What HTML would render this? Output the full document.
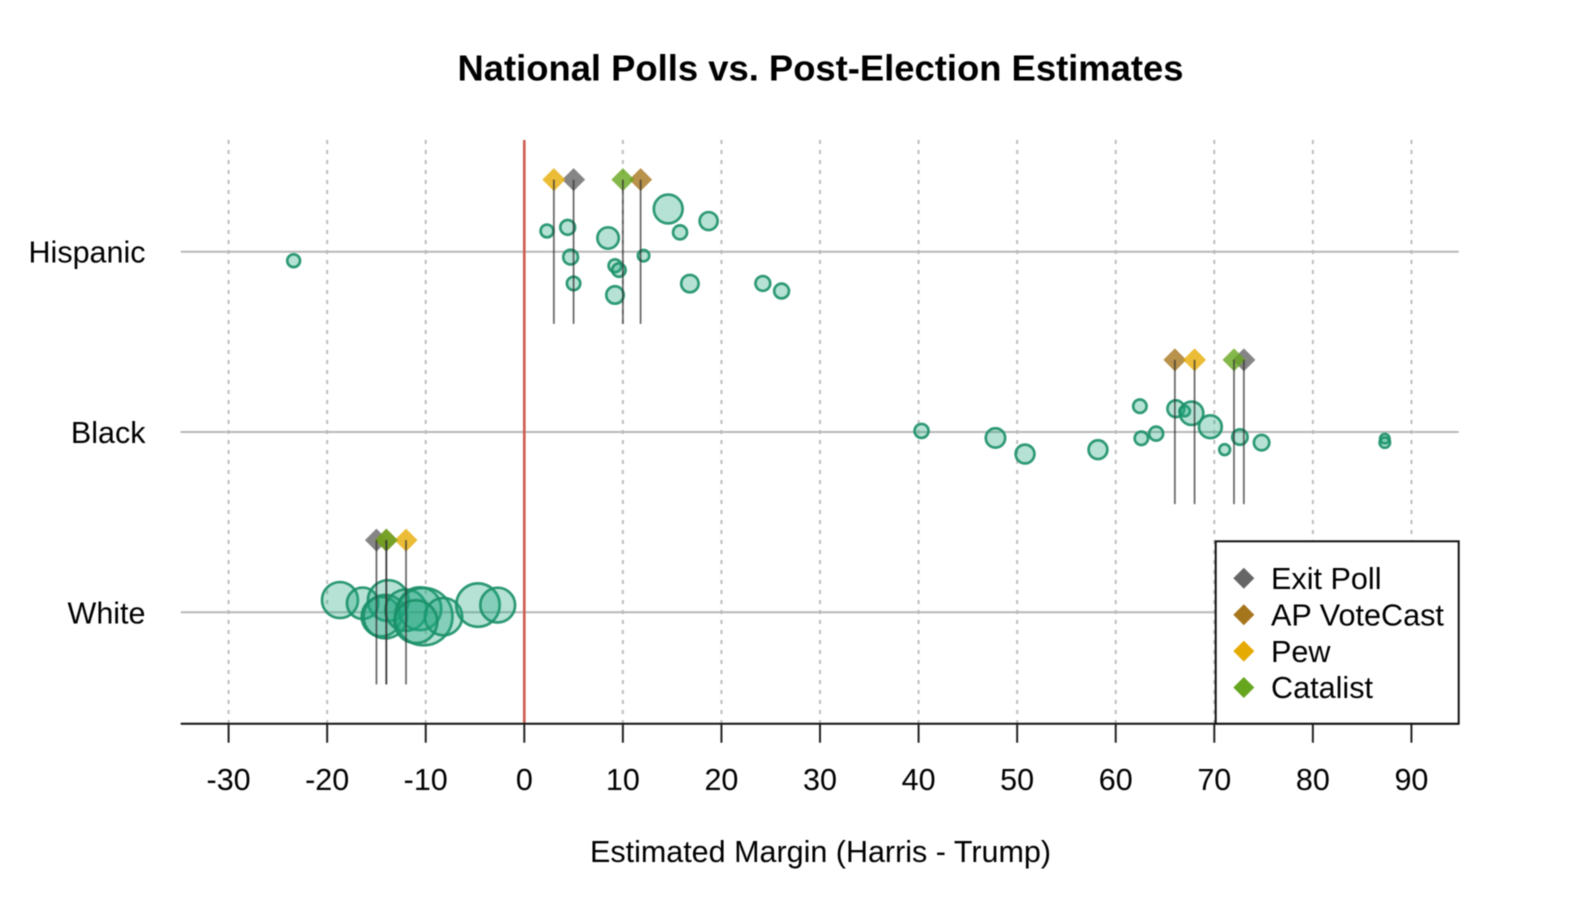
<!DOCTYPE html>
<html lang="en">
<head>
<meta charset="utf-8">
<title>National Polls vs. Post-Election Estimates</title>
<style>
html,body{margin:0;padding:0;background:#fff;}
body{width:1596px;height:898px;overflow:hidden;}
svg{display:block;font-family:"Liberation Sans",Arial,sans-serif;filter:blur(0.45px);}
</style>
</head>
<body>
<svg id="chart" width="1596" height="898" viewBox="0 0 1596 898" xmlns="http://www.w3.org/2000/svg">
  <rect x="0" y="0" width="1596" height="898" fill="#ffffff"/>
  <text x="820.5" y="80.5" text-anchor="middle" font-size="36.4" font-weight="700" fill="#000">National Polls vs. Post-Election Estimates</text>
  <text x="820.5" y="862" text-anchor="middle" font-size="30.5" fill="#000">Estimated Margin (Harris - Trump)</text>
  <g id="grid"></g>
  <g id="marks"></g>
  <g id="axis"></g>
  <g id="legend"></g>
</svg>
<script>
const categories = ['Hispanic', 'Black', 'White'];
const xTicks = [-30, -20, -10, 0, 10, 20, 30, 40, 50, 60, 70, 80, 90];

const hispanicMargins = [-23.4, 2.3, 4.4, 4.7, 5.0, 8.5, 9.2, 9.6, 9.2, 12.1, 14.6, 15.8, 18.7, 16.8, 24.2, 26.1];
const hispanicJitter = [0.05, -0.115, -0.135, 0.03, 0.176, -0.076, 0.078, 0.102, 0.24, 0.022, -0.237, -0.107, -0.17, 0.177, 0.176, 0.218];
const hispanicSizes = [280, 280, 370, 370, 306, 756, 280, 306, 506, 225, 1350, 333, 540, 506, 370, 370];

const blackMargins = [40.3, 47.8, 50.8, 58.2, 62.45, 62.6, 64.1, 66.1, 67.0, 67.7, 69.6, 71.05, 72.6, 74.8, 87.3, 87.3];
const blackJitter = [-0.006, 0.033, 0.122, 0.098, -0.143, 0.035, 0.009, -0.129, -0.116, -0.104, -0.029, 0.098, 0.028, 0.059, 0.037, 0.059];
const blackSizes = [333, 625, 588, 588, 306, 306, 333, 473, 189, 900, 856, 203, 400, 400, 156, 189];

const whiteMargins = [-18.7, -16.4, -13.8, -14.5, -14.1, -12.0, -10.6, -10.2, -8.2, -11.0, -4.7, -2.7];
const whiteJitter = [-0.068, -0.05, -0.065, 0.024, 0.024, -0.012, -0.02, 0.024, 0.024, 0.052, -0.04, -0.04];
const whiteSizes = [2093, 1600, 2678, 2500, 3025, 2756, 2943, 5256, 2256, 2943, 3025, 1958];

const pollNames = ['Exit Poll', 'AP VoteCast', 'Pew', 'Catalist'];
const exitPollValues = [5, 73, -15];
const apVoteCastValues = [11.8, 66, -14];
const pewValues = [3, 68, -12];
const catalistValues = [10, 72, -14];

const NS = 'http://www.w3.org/2000/svg';
const xScale = v => 524.3 + v * 9.857;
const yScale = r => 251.7 + r * 180.3;
const radius = n => 0.4 * Math.sqrt(n) - 0.3;
const axisY = 723.7, plotLeft = 180.7, plotRight = 1458.7, plotTop = 140;

function make(parent, tag, props, text) {
  const el = document.createElementNS(NS, tag);
  for (const k in props) el.setAttribute(k, props[k]);
  if (text !== undefined) el.textContent = text;
  parent.appendChild(el);
  return el;
}
function diamondPoints(cx, cy, h) {
  return [cx, cy - h, cx + h, cy, cx, cy + h, cx - h, cy].join(',');
}

const grid = document.getElementById('grid');
const marks = document.getElementById('marks');
const axis = document.getElementById('axis');
const legend = document.getElementById('legend');

xTicks.forEach(t => {
  const line = make(grid, 'line', {x1: xScale(t), x2: xScale(t), y1: plotTop, y2: axisY, stroke: '#bdbdbd', 'stroke-width': 2, 'stroke-dasharray': '4 6'});
  
  
});
categories.forEach((c, i) => {
  const line = make(grid, 'line', {x1: plotLeft, x2: plotRight, y1: yScale(i), y2: yScale(i), stroke: '#b8b8b8', 'stroke-width': 2});
  
  
  const label = make(axis, 'text', {x: 145.5, y: yScale(i) + 11, 'text-anchor': 'end', 'font-size': 30.5, fill: '#000'}, c);
  
  
});

const zeroLine = make(grid, 'line', {x1: xScale(0), x2: xScale(0), y1: plotTop, y2: axisY, stroke: '#cc5a4e', 'stroke-width': 2.6});



const pollRows = [[hispanicMargins, hispanicJitter, hispanicSizes], [blackMargins, blackJitter, blackSizes], [whiteMargins, whiteJitter, whiteSizes]];
pollRows.forEach((row, i) => {
  row[0].forEach((m, k) => {
    const dot = make(marks, 'circle', {cx: xScale(m), cy: yScale(i + row[1][k]), r: radius(row[2][k]), fill: '#22a87e', 'fill-opacity': 0.33, stroke: '#1b9068', 'stroke-opacity': 0.9, 'stroke-width': 2.7});
    
    
  });
});

const pollValues = [exitPollValues, apVoteCastValues, pewValues, catalistValues];
const pollColors = ['#666666', '#a6761d', '#e6ab02', '#66a61e'];
pollValues.forEach((vals, s) => {
  vals.forEach((v, i) => {
    const d = make(marks, 'polygon', {points: diamondPoints(xScale(v), yScale(i - 0.4), 11.5), fill: pollColors[s], 'fill-opacity': 0.8});
    
    
  });
});
pollValues.forEach(vals => {
  vals.forEach((v, i) => {
    const l = make(marks, 'line', {x1: xScale(v), x2: xScale(v), y1: yScale(i - 0.4), y2: yScale(i + 0.4), stroke: '#333', 'stroke-opacity': 0.72, 'stroke-width': 1.8});
    
    
  });
});

const box = make(legend, 'rect', {x: 1215.7, y: 541.3, width: 243, height: 182.4, fill: '#fff', stroke: '#111', 'stroke-width': 2});


pollNames.forEach((n, s) => {
  const cy = 578.3 + s * 36.4;
  const key = make(legend, 'polygon', {points: diamondPoints(1243.8, cy, 10.5), fill: pollColors[s]});
  
  
  const txt = make(legend, 'text', {x: 1271, y: cy + 10.7, 'font-size': 30.6, fill: '#000'}, n);
  
  
});

const axisLine = make(axis, 'line', {x1: plotLeft, x2: plotRight, y1: axisY, y2: axisY, stroke: '#111', 'stroke-width': 2});


xTicks.forEach(t => {
  const tick = make(axis, 'line', {x1: xScale(t), x2: xScale(t), y1: axisY, y2: 742.7, stroke: '#222', 'stroke-width': 2});
  
  
  const lab = make(axis, 'text', {x: xScale(t), y: 790, 'text-anchor': 'middle', 'font-size': 30.5, fill: '#000'}, String(t));
  
  
});
</script>
</body>
</html>
